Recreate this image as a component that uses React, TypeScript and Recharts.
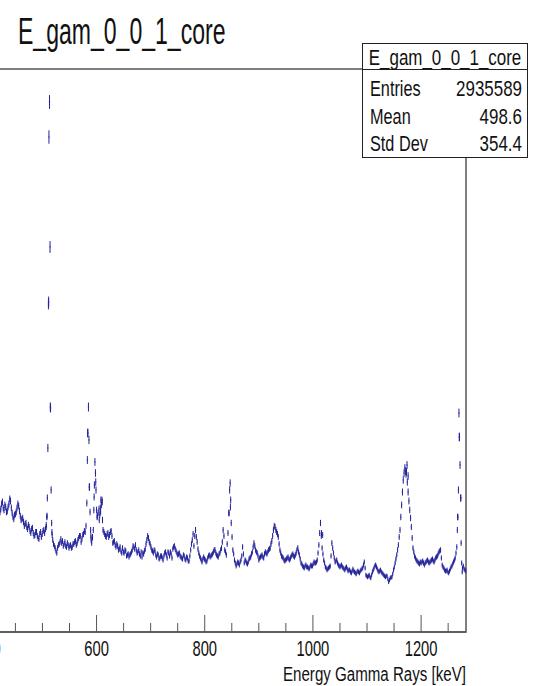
import { ScatterChart, Scatter, XAxis, YAxis, ErrorBar, ReferenceArea } from 'recharts';

// continuum: one value every 3 keV starting at 420 keV (counts)
const binStart = 420;
const binStep = 3;
const continuum = [
  1260, 1230, 1300, 1220, 1250, 1210, 1280, 1310, 1190, 1130,
  1180, 1240, 1260, 1160, 1130, 1100, 1080, 1050, 1070, 1010,
  1030, 990, 970, 1000, 940, 980, 950, 1010, 990, 1050,
  1840, 5300, 1420, 920, 860, 810, 840, 880, 930, 910,
  880, 860, 890, 840, 870, 850, 880, 910, 890, 940,
  960, 930, 980, 1000, 1290, 2250, 1200, 890, 1020, 1700,
  1220, 1190, 1170, 1270, 1020, 980, 950, 990, 970, 1010,
  890, 910, 850, 860, 830, 810, 840, 790, 810, 770,
  750, 780, 820, 850, 870, 790, 820, 760, 750, 780,
  830, 920, 940, 880, 820, 790, 810, 750, 770, 740,
  760, 720, 790, 770, 800, 760, 780, 830, 860, 810,
  770, 790, 750, 730, 760, 720, 740, 710, 820, 920,
  860, 1020, 900, 790, 740, 700, 750, 720, 710, 760,
  750, 770, 800, 820, 770, 750, 790, 840, 1020, 820,
  770, 990, 1420, 1090, 820, 720, 660, 700, 670, 720,
  850, 690, 710, 680, 730, 750, 800, 890, 820, 790,
  720, 750, 770, 740, 800, 780, 820, 840, 910, 1020,
  1050, 1000, 950, 820, 760, 740, 710, 730, 750, 720,
  760, 780, 750, 790, 840, 770, 690, 660, 640, 670,
  650, 630, 670, 660, 700, 690, 720, 870, 1090, 840,
  720, 650, 620, 640, 660, 890, 790, 700, 720, 670,
  650, 670, 640, 620, 650, 610, 620, 590, 630, 600,
  580, 610, 590, 620, 640, 700, 570, 550, 570, 540,
  600, 640, 670, 630, 600, 620, 590, 570, 550, 560,
  500, 540, 550, 620, 690, 770, 870, 1020, 1270, 1520,
  1640, 1600, 1400, 1220, 1050, 840, 760, 720, 700, 680,
  690, 710, 670, 700, 720, 690, 710, 730, 700, 740,
  760, 800, 820, 670, 640, 610, 620, 590, 630, 660,
  700, 740, 850, 1420, 1670, 690, 660, 620,
];

// second reading of the band, half a step later (421.5 keV, 424.5 keV, ...)
const midStart = 421.5;
const continuumMid = [
  1200, 1280, 1240, 1270, 1200, 1250, 1330, 1240, 1150, 1170,
  1200, 1280, 1210, 1120, 1140, 1060, 1090, 1030, 1050, 990,
  1040, 960, 1000, 960, 930, 1000, 980, 1020, 1030, 1160,
  3300, 2250, 1000, 880, 840, 790, 870, 900, 890, 860,
  900, 850, 870, 860, 840, 880, 900, 870, 920, 960,
  900, 970, 1010, 1060, 1990, 1450, 960, 950, 1350, 1500,
  1160, 1230, 1200, 1300, 1000, 960, 980, 950, 1000, 960,
  900, 870, 880, 820, 850, 790, 800, 820, 760, 780,
  770, 800, 860, 830, 820, 800, 780, 800, 790, 810,
  880, 960, 900, 850, 810, 820, 770, 780, 730, 760,
  740, 760, 800, 740, 790, 800, 740, 850, 830, 790,
  780, 760, 740, 770, 730, 750, 710, 760, 880, 980,
  960, 950, 830, 760, 720, 730, 730, 700, 740, 770,
  760, 780, 820, 790, 760, 780, 820, 900, 960, 800,
  880, 1190, 1250, 950, 780, 690, 680, 690, 700, 760,
  780, 720, 690, 700, 740, 780, 850, 860, 800, 760,
  740, 760, 750, 780, 790, 800, 830, 880, 960, 1060,
  1020, 980, 880, 790, 750, 720, 720, 740, 730, 740,
  770, 760, 770, 820, 800, 730, 680, 650, 660, 650,
  640, 650, 660, 680, 690, 700, 790, 990, 960, 780,
  690, 640, 630, 650, 760, 840, 740, 710, 690, 660,
  660, 650, 630, 640, 630, 620, 600, 610, 610, 590,
  600, 600, 610, 630, 670, 640, 560, 560, 550, 570,
  620, 660, 650, 610, 610, 600, 580, 560, 560, 530,
  520, 545, 580, 650, 730, 820, 950, 1150, 1400, 1590,
  1610, 1500, 1310, 1140, 940, 800, 740, 710, 690, 700,
  700, 690, 690, 710, 700, 700, 720, 710, 720, 750,
  780, 810, 740, 650, 620, 610, 600, 610, 650, 680,
  720, 790, 1150, 1950, 1340, 640, 630, 610,
];

// extra 1 keV bins inside the narrow lines
const peakEnergies = [
  507, 508, 509, 511, 512, 514, 515, 517, 518,
  583, 584, 586, 587, 589, 590, 592,
  595, 596, 598, 599, 601, 605, 607, 608, 610, 611,
  845, 847, 848,
  1016, 1018,
  1172, 1174, 1176,
  1267, 1268, 1270, 1271, 1273, 1274, 1276,
];
const peakCounts = [
  1070, 1150, 1340, 3280, 4950, 3850, 2240, 1090, 970,
  1720, 1990, 1920, 1450, 1020, 920, 940,
  1220, 1470, 1590, 1420, 1150, 1120, 1240, 1320, 1320, 1120,
  1190, 1490, 1320,
  990, 970,
  1580, 1670, 1560,
  1020, 1150, 2190, 1950, 1340, 890, 600,
];

const xTicks = [
  400, 450, 500, 550, 600, 650, 700, 750, 800, 850,
  900, 950, 1000, 1050, 1100, 1150, 1200, 1250,
];
const xLabels = [400, 600, 800, 1000, 1200];

const histName = 'E_gam_0_0_1_core';
const statLabels = ['Entries', 'Mean', 'Std Dev'];
const statValues = ['2935589', '498.6', '354.4'];

const BLUE = '#22229a';
const AXIS = '#555';
const FONT = '"Liberation Sans", Arial, Helvetica, sans-serif';
const X_MAX = 1283;
const Y_MAX = 5630;

const bin = (e: number, c: number) => ({ e, c, err: 0.95 * Math.sqrt(c) });

const points = [
  ...continuum.map((c, i) => bin(binStart + i * binStep, c)),
  ...continuumMid.map((c, i) => bin(midStart + i * binStep, c)),
  ...peakEnergies.map((e, i) => bin(e, peakCounts[i])),
];

function AxisTick(props: any) {
  const { x, y, payload } = props;
  const major = xLabels.includes(payload.value);
  return (
    <g>
      <line x1={x} x2={x} y1={y} y2={y - (major ? 17 : 9)} stroke={AXIS} strokeWidth={1} />
      {major && (
        <text
          transform={`translate(${x},${y + 24}) scale(0.67,1)`}
          textAnchor="middle"
          fontSize={22}
          fontFamily={FONT}
          fill="#111"
        >
          {payload.value}
        </text>
      )}
    </g>
  );
}

function BinMark(props: any) {
  const { cx, cy } = props;
  return <rect x={cx - 0.6} y={cy - 0.5} width={1.2} height={1} fill={BLUE} />;
}

export default function App() {
  return (
    <div style={{ position: 'absolute', left: 0, top: 0, width: 546, height: 686, overflow: 'hidden', background: '#fff' }}>
      {/* chart is shifted left: the low-energy part is cut off in the picture */}
      <div style={{ position: 'absolute', left: -240, top: 0 }}>
        <ScatterChart width={786} height={686} margin={{ top: 69, right: 80, bottom: 24, left: 12 }}>
          <XAxis
            type="number"
            dataKey="e"
            domain={[0, X_MAX]}
            ticks={xTicks}
            interval={0}
            tick={<AxisTick />}
            tickLine={false}
            tickSize={0}
            tickMargin={0}
            axisLine={{ stroke: AXIS, strokeWidth: 1.5 }}
            height={30}
            allowDataOverflow
          />
          <YAxis type="number" dataKey="c" domain={[0, Y_MAX]} hide allowDataOverflow />
          <ReferenceArea
            x1={0}
            x2={X_MAX}
            y1={0}
            y2={Y_MAX}
            fill="none"
            stroke={AXIS}
            strokeWidth={1.5}
            ifOverflow="visible"
          />
          <Scatter data={points} shape={<BinMark />} isAnimationActive={false}>
            <ErrorBar dataKey="err" direction="y" width={0} stroke={BLUE} strokeWidth={1} />
          </Scatter>
        </ScatterChart>
      </div>

      {/* title, axis title and stats box */}
      <svg width={546} height={686} style={{ position: 'absolute', left: 0, top: 0 }}>
        <text transform="translate(18,44) scale(0.64,1)" fontSize={36} fontFamily={FONT} fill="#111">
          {histName}
        </text>
        <text
          transform="translate(466,681) scale(0.72,1)"
          textAnchor="end"
          fontSize={21}
          fontFamily={FONT}
          fill="#111"
        >
          Energy Gamma Rays [keV]
        </text>
        <rect x={362.5} y={43.5} width={165} height={114} fill="#fff" stroke="#222" strokeWidth={1} />
        <line x1={362.5} x2={527.5} y1={69.5} y2={69.5} stroke="#222" strokeWidth={1} />
        <text
          transform="translate(445,65) scale(0.77,1)"
          textAnchor="middle"
          fontSize={22}
          fontFamily={FONT}
          fill="#111"
        >
          {histName}
        </text>
        {statLabels.map((label, i) => (
          <g key={label}>
            <text
              transform={`translate(370,${96 + i * 27.5}) scale(0.74,1)`}
              fontSize={22}
              fontFamily={FONT}
              fill="#111"
            >
              {label}
            </text>
            <text
              transform={`translate(522,${96 + i * 27.5}) scale(0.77,1)`}
              textAnchor="end"
              fontSize={22}
              fontFamily={FONT}
              fill="#111"
            >
              {statValues[i]}
            </text>
          </g>
        ))}
      </svg>
    </div>
  );
}
